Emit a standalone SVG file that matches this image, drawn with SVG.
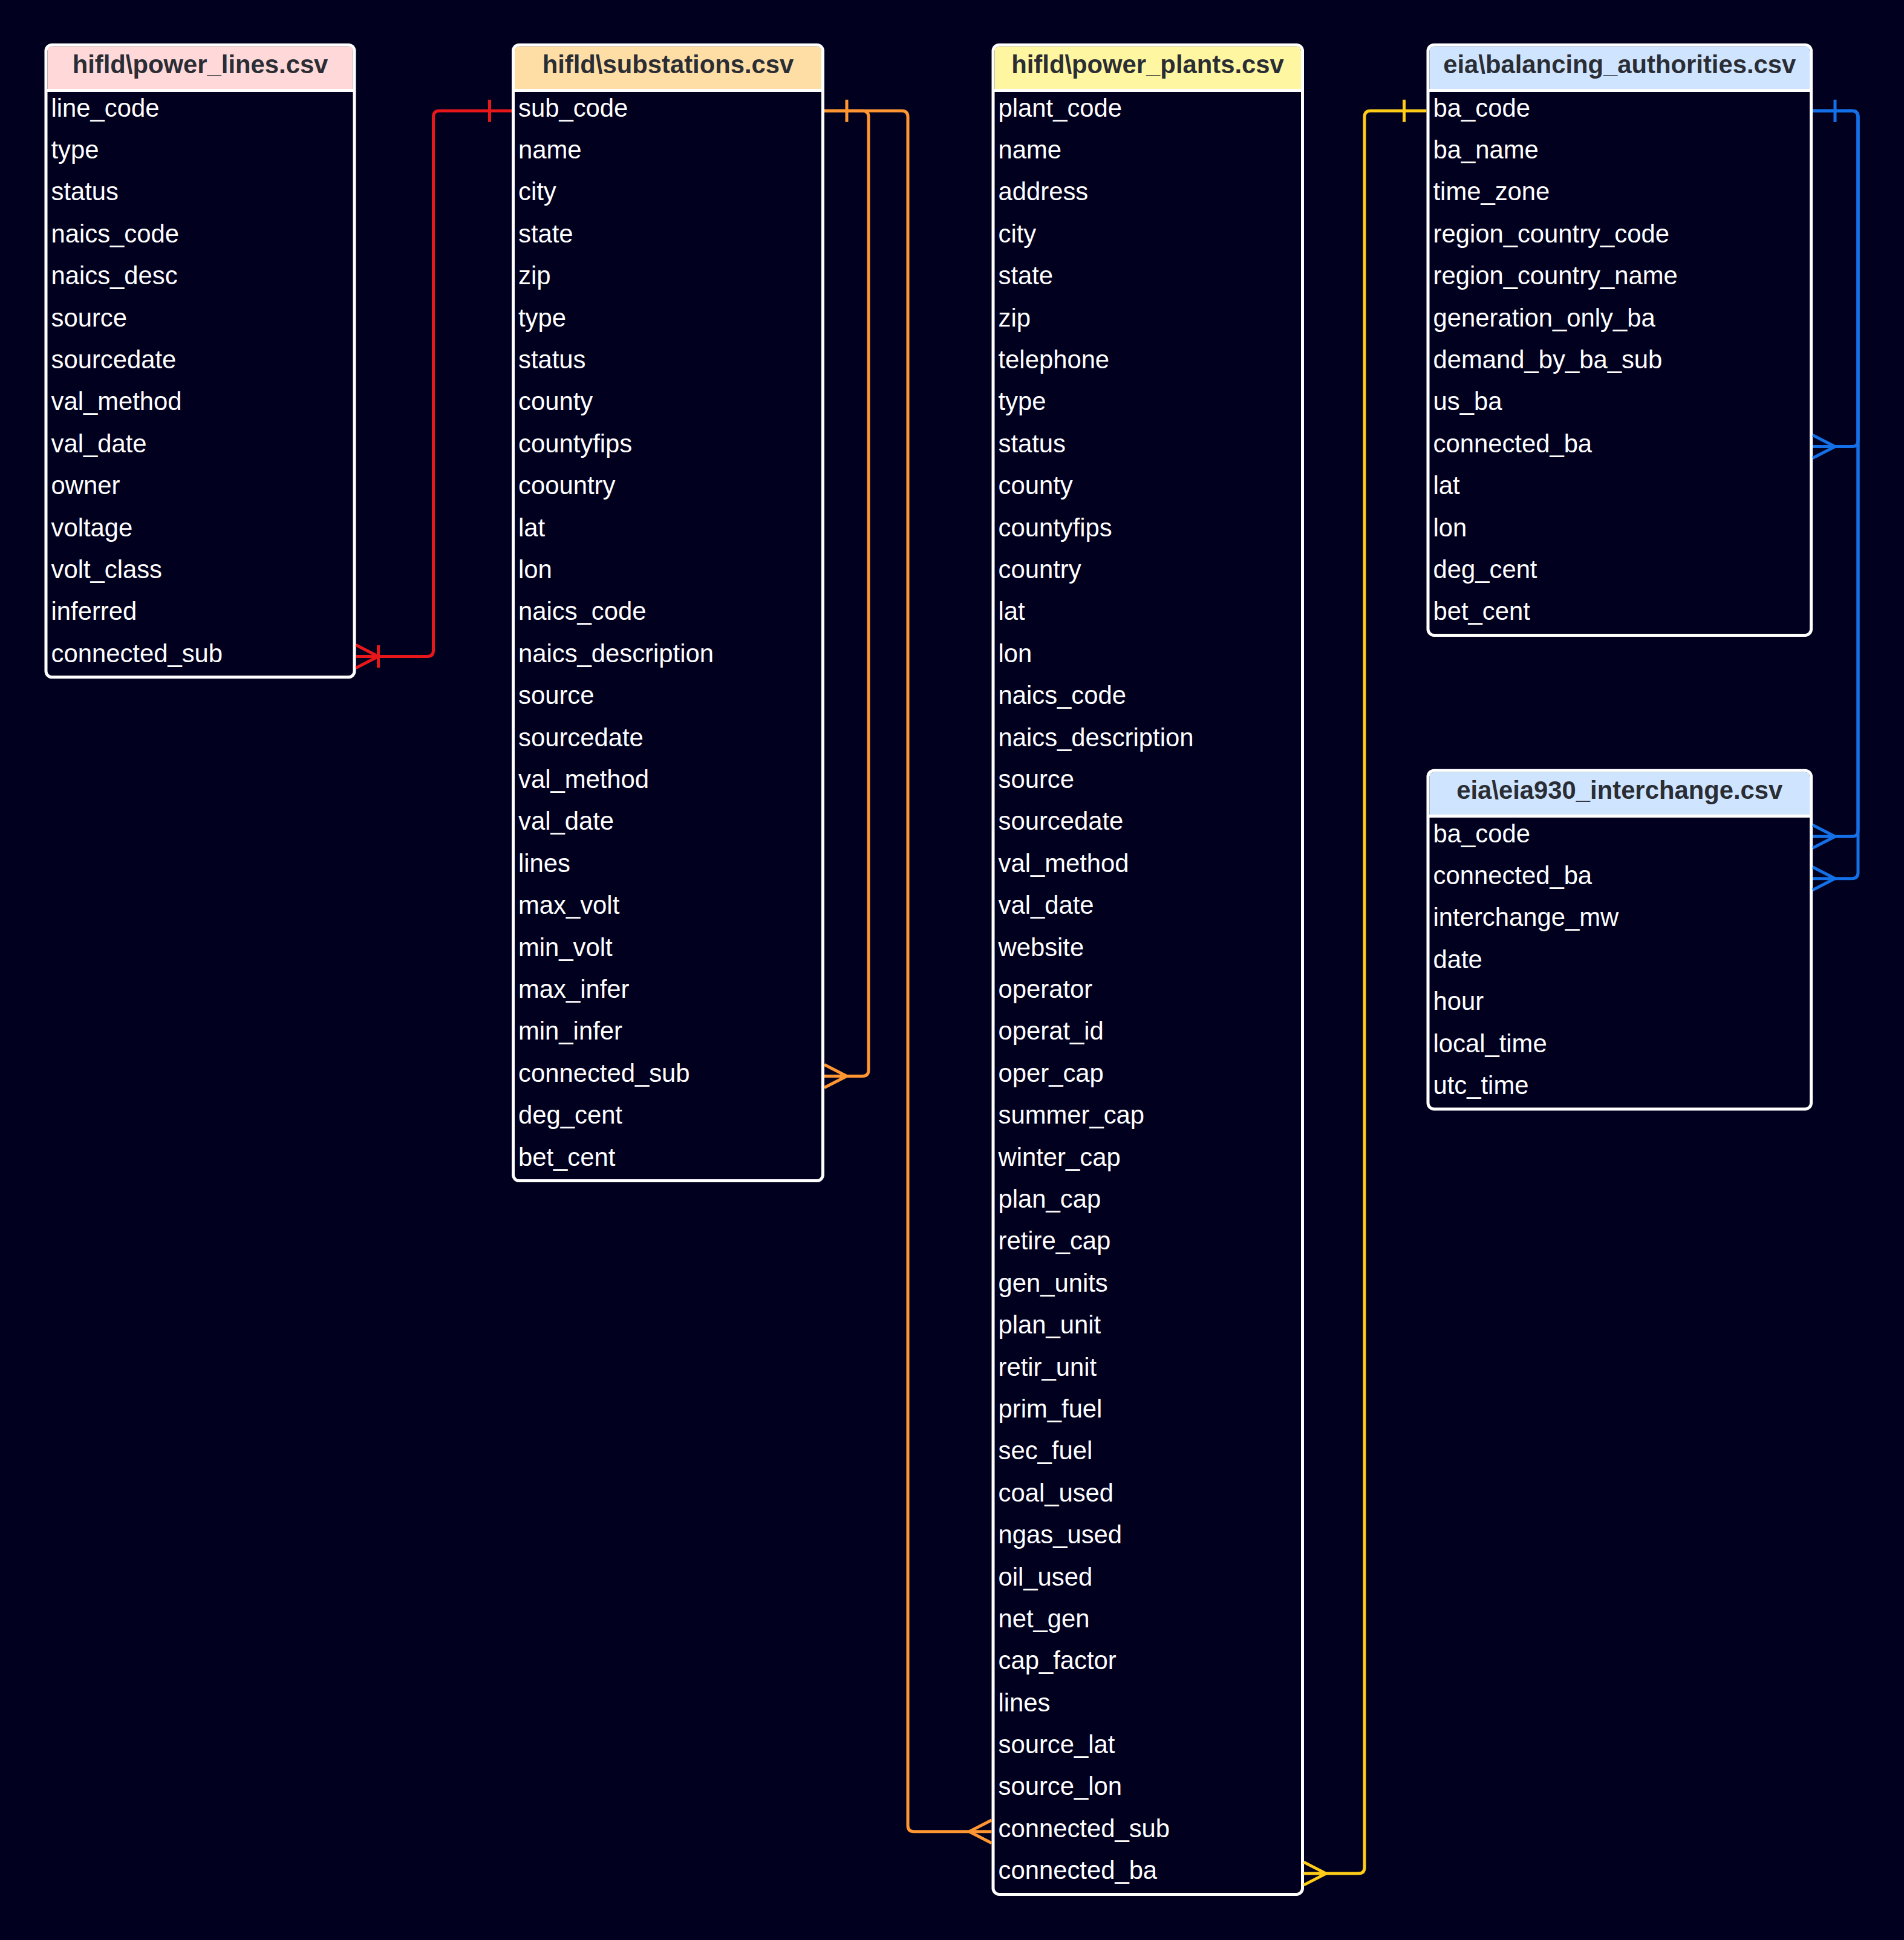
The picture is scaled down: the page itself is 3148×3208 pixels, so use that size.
<svg xmlns="http://www.w3.org/2000/svg" width="3148" height="3208" viewBox="0 0 3148 3208">
<style>
.box{fill:#01001f;stroke:#ffffff;stroke-width:5}
.sep{stroke:#ffffff;stroke-width:5}
.title{font-family:"Liberation Sans",Arial,sans-serif;font-size:41.8px;font-weight:bold;fill:#2a2d34;text-anchor:middle}
.row{font-family:"Liberation Sans",Arial,sans-serif;font-size:41.8px;fill:#ffffff}
.c{fill:none;stroke-width:5;stroke-linecap:butt;stroke-linejoin:round}
.red{stroke:#e8171a}
.orange{stroke:#ff9632}
.yellow{stroke:#ffcc17}
.blue{stroke:#1470e6}
</style>
<rect x="0" y="0" width="3148" height="3208" fill="#01001f"/>

<g id="power_lines">
<rect class="box" x="76" y="74.2" width="510" height="1045.6" rx="10"/>
<path d="M78.5 147.2 V84.7 Q78.5 76.7 86.5 76.7 H575.5 Q583.5 76.7 583.5 84.7 V147.2 Z" fill="#ffd9d9"/>
<line class="sep" x1="76" y1="149.5" x2="586" y2="149.5"/>
<text class="title" x="331" y="121">hifld\power_lines.csv</text>
<text class="row" y="123.1"><tspan x="84.5" dy="69.4">line_code</tspan><tspan x="84.5" dy="69.4">type</tspan><tspan x="84.5" dy="69.4">status</tspan><tspan x="84.5" dy="69.4">naics_code</tspan><tspan x="84.5" dy="69.4">naics_desc</tspan><tspan x="84.5" dy="69.4">source</tspan><tspan x="84.5" dy="69.4">sourcedate</tspan><tspan x="84.5" dy="69.4">val_method</tspan><tspan x="84.5" dy="69.4">val_date</tspan><tspan x="84.5" dy="69.4">owner</tspan><tspan x="84.5" dy="69.4">voltage</tspan><tspan x="84.5" dy="69.4">volt_class</tspan><tspan x="84.5" dy="69.4">inferred</tspan><tspan x="84.5" dy="69.4">connected_sub</tspan></text>
</g>

<g id="substations">
<rect class="box" x="848.5" y="74.2" width="512" height="1878.4" rx="10"/>
<path d="M851 147.2 V84.7 Q851 76.7 859 76.7 H1350 Q1358 76.7 1358 84.7 V147.2 Z" fill="#ffdea6"/>
<line class="sep" x1="848.5" y1="149.5" x2="1360.5" y2="149.5"/>
<text class="title" x="1104.5" y="121">hifld\substations.csv</text>
<text class="row" y="123.1"><tspan x="857" dy="69.4">sub_code</tspan><tspan x="857" dy="69.4">name</tspan><tspan x="857" dy="69.4">city</tspan><tspan x="857" dy="69.4">state</tspan><tspan x="857" dy="69.4">zip</tspan><tspan x="857" dy="69.4">type</tspan><tspan x="857" dy="69.4">status</tspan><tspan x="857" dy="69.4">county</tspan><tspan x="857" dy="69.4">countyfips</tspan><tspan x="857" dy="69.4">coountry</tspan><tspan x="857" dy="69.4">lat</tspan><tspan x="857" dy="69.4">lon</tspan><tspan x="857" dy="69.4">naics_code</tspan><tspan x="857" dy="69.4">naics_description</tspan><tspan x="857" dy="69.4">source</tspan><tspan x="857" dy="69.4">sourcedate</tspan><tspan x="857" dy="69.4">val_method</tspan><tspan x="857" dy="69.4">val_date</tspan><tspan x="857" dy="69.4">lines</tspan><tspan x="857" dy="69.4">max_volt</tspan><tspan x="857" dy="69.4">min_volt</tspan><tspan x="857" dy="69.4">max_infer</tspan><tspan x="857" dy="69.4">min_infer</tspan><tspan x="857" dy="69.4">connected_sub</tspan><tspan x="857" dy="69.4">deg_cent</tspan><tspan x="857" dy="69.4">bet_cent</tspan></text>
</g>

<g id="power_plants">
<rect class="box" x="1642" y="74.2" width="511.5" height="3058.3" rx="10"/>
<path d="M1644.5 147.2 V84.7 Q1644.5 76.7 1652.5 76.7 H2143 Q2151 76.7 2151 84.7 V147.2 Z" fill="#fff6a1"/>
<line class="sep" x1="1642" y1="149.5" x2="2153.5" y2="149.5"/>
<text class="title" x="1897.5" y="121">hifld\power_plants.csv</text>
<text class="row" y="123.1"><tspan x="1650.5" dy="69.4">plant_code</tspan><tspan x="1650.5" dy="69.4">name</tspan><tspan x="1650.5" dy="69.4">address</tspan><tspan x="1650.5" dy="69.4">city</tspan><tspan x="1650.5" dy="69.4">state</tspan><tspan x="1650.5" dy="69.4">zip</tspan><tspan x="1650.5" dy="69.4">telephone</tspan><tspan x="1650.5" dy="69.4">type</tspan><tspan x="1650.5" dy="69.4">status</tspan><tspan x="1650.5" dy="69.4">county</tspan><tspan x="1650.5" dy="69.4">countyfips</tspan><tspan x="1650.5" dy="69.4">country</tspan><tspan x="1650.5" dy="69.4">lat</tspan><tspan x="1650.5" dy="69.4">lon</tspan><tspan x="1650.5" dy="69.4">naics_code</tspan><tspan x="1650.5" dy="69.4">naics_description</tspan><tspan x="1650.5" dy="69.4">source</tspan><tspan x="1650.5" dy="69.4">sourcedate</tspan><tspan x="1650.5" dy="69.4">val_method</tspan><tspan x="1650.5" dy="69.4">val_date</tspan><tspan x="1650.5" dy="69.4">website</tspan><tspan x="1650.5" dy="69.4">operator</tspan><tspan x="1650.5" dy="69.4">operat_id</tspan><tspan x="1650.5" dy="69.4">oper_cap</tspan><tspan x="1650.5" dy="69.4">summer_cap</tspan><tspan x="1650.5" dy="69.4">winter_cap</tspan><tspan x="1650.5" dy="69.4">plan_cap</tspan><tspan x="1650.5" dy="69.4">retire_cap</tspan><tspan x="1650.5" dy="69.4">gen_units</tspan><tspan x="1650.5" dy="69.4">plan_unit</tspan><tspan x="1650.5" dy="69.4">retir_unit</tspan><tspan x="1650.5" dy="69.4">prim_fuel</tspan><tspan x="1650.5" dy="69.4">sec_fuel</tspan><tspan x="1650.5" dy="69.4">coal_used</tspan><tspan x="1650.5" dy="69.4">ngas_used</tspan><tspan x="1650.5" dy="69.4">oil_used</tspan><tspan x="1650.5" dy="69.4">net_gen</tspan><tspan x="1650.5" dy="69.4">cap_factor</tspan><tspan x="1650.5" dy="69.4">lines</tspan><tspan x="1650.5" dy="69.4">source_lat</tspan><tspan x="1650.5" dy="69.4">source_lon</tspan><tspan x="1650.5" dy="69.4">connected_sub</tspan><tspan x="1650.5" dy="69.4">connected_ba</tspan></text>
</g>

<g id="balancing_authorities">
<rect class="box" x="2361" y="74.2" width="633.5" height="976.2" rx="10"/>
<path d="M2363.5 147.2 V84.7 Q2363.5 76.7 2371.5 76.7 H2984 Q2992 76.7 2992 84.7 V147.2 Z" fill="#cfe4fe"/>
<line class="sep" x1="2361" y1="149.5" x2="2994.5" y2="149.5"/>
<text class="title" x="2677.8" y="121">eia\balancing_authorities.csv</text>
<text class="row" y="123.1"><tspan x="2369.5" dy="69.4">ba_code</tspan><tspan x="2369.5" dy="69.4">ba_name</tspan><tspan x="2369.5" dy="69.4">time_zone</tspan><tspan x="2369.5" dy="69.4">region_country_code</tspan><tspan x="2369.5" dy="69.4">region_country_name</tspan><tspan x="2369.5" dy="69.4">generation_only_ba</tspan><tspan x="2369.5" dy="69.4">demand_by_ba_sub</tspan><tspan x="2369.5" dy="69.4">us_ba</tspan><tspan x="2369.5" dy="69.4">connected_ba</tspan><tspan x="2369.5" dy="69.4">lat</tspan><tspan x="2369.5" dy="69.4">lon</tspan><tspan x="2369.5" dy="69.4">deg_cent</tspan><tspan x="2369.5" dy="69.4">bet_cent</tspan></text>
</g>

<g id="eia930_interchange">
<rect class="box" x="2361" y="1274.2" width="633.5" height="559.8" rx="10"/>
<path d="M2363.5 1347.2 V1284.7 Q2363.5 1276.7 2371.5 1276.7 H2984 Q2992 1276.7 2992 1284.7 V1347.2 Z" fill="#cfe4fe"/>
<line class="sep" x1="2361" y1="1349.5" x2="2994.5" y2="1349.5"/>
<text class="title" x="2677.8" y="1321">eia\eia930_interchange.csv</text>
<text class="row" y="1323.1"><tspan x="2369.5" dy="69.4">ba_code</tspan><tspan x="2369.5" dy="69.4">connected_ba</tspan><tspan x="2369.5" dy="69.4">interchange_mw</tspan><tspan x="2369.5" dy="69.4">date</tspan><tspan x="2369.5" dy="69.4">hour</tspan><tspan x="2369.5" dy="69.4">local_time</tspan><tspan x="2369.5" dy="69.4">utc_time</tspan></text>
</g>

<g id="connectors">
<g class="c red">
<path d="M846 183.3 H726.5 Q716.5 183.3 716.5 193.3 V1075.5 Q716.5 1085.5 706.5 1085.5 H588.5"/>
<path d="M809.5 164.8 V201.8"/>
<path d="M588.5 1066.5 L625.5 1085.5 M588.5 1104.5 L625.5 1085.5 M625.5 1067 V1104"/>
</g>
<g class="c orange">
<path d="M1363 183.3 H1426 Q1436 183.3 1436 193.3 V1769.5 Q1436 1779.5 1426 1779.5 H1363"/>
<path d="M1363 183.3 H1491 Q1501 183.3 1501 193.3 V3018.7 Q1501 3028.7 1511 3028.7 H1639.5"/>
<path d="M1400 164.8 V201.8"/>
<path d="M1363 1760.5 L1400 1779.5 M1363 1798.5 L1400 1779.5"/>
<path d="M1639.5 3009.7 L1602.5 3028.7 M1639.5 3047.7 L1602.5 3028.7"/>
</g>
<g class="c yellow">
<path d="M2155.5 3098.1 H2246 Q2256 3098.1 2256 3088.1 V193.3 Q2256 183.3 2266 183.3 H2358.5"/>
<path d="M2155.5 3079.1 L2192.5 3098.1 M2155.5 3117.1 L2192.5 3098.1"/>
<path d="M2321.5 164.8 V201.8"/>
</g>
<g class="c blue">
<path d="M2997 183.3 H3062 Q3072 183.3 3072 193.3 V728.5 Q3072 738.5 3062 738.5 H2997"/>
<path d="M2997 183.3 H3062 Q3072 183.3 3072 193.3 V1373.3 Q3072 1383.3 3062 1383.3 H2997"/>
<path d="M2997 183.3 H3062 Q3072 183.3 3072 193.3 V1442.7 Q3072 1452.7 3062 1452.7 H2997"/>
<path d="M3034 164.8 V201.8"/>
<path d="M2997 719.5 L3034 738.5 M2997 757.5 L3034 738.5"/>
<path d="M2997 1364.3 L3034 1383.3 M2997 1402.3 L3034 1383.3"/>
<path d="M2997 1433.7 L3034 1452.7 M2997 1471.7 L3034 1452.7"/>
</g>
</g>
</svg>
